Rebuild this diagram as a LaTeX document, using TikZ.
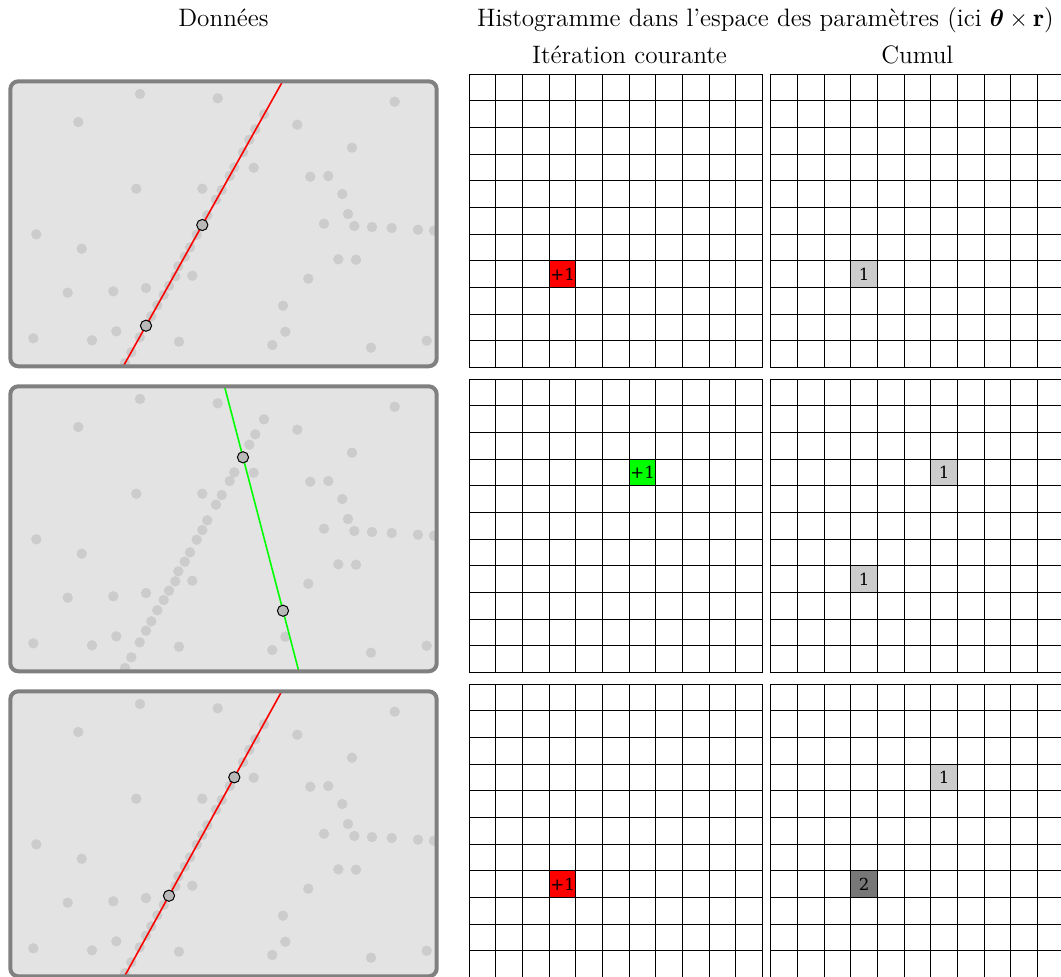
\documentclass[tikz,border=0pt]{standalone}
\usepackage{fontspec}
\usepackage{amsmath}
\usetikzlibrary{calc}
\newfontfamily\cellfont{DejaVu Serif}
\definecolor{panelbg}{RGB}{227,227,227}
\definecolor{panelborder}{RGB}{128,128,128}
\definecolor{dotgray}{RGB}{204,204,204}
\definecolor{markgray}{RGB}{185,185,185}
\definecolor{cumone}{RGB}{204,204,204}
\definecolor{cumtwo}{RGB}{119,119,119}
\definecolor{hitred}{RGB}{255,0,0}
\definecolor{hitgreen}{RGB}{0,255,0}
\tikzset{
  panelshape/.style={rounded corners=4pt},
  panelfill/.style={fill=panelbg, panelshape},
  panelframe/.style={draw=panelborder, line width=2pt, panelshape},
  datadot/.style={fill=dotgray},
  markpt/.style={fill=markgray, draw=black, line width=0.5pt},
  fitline/.style={line width=0.8pt},
  gridline/.style={draw=black, line width=0.5pt},
  cellbox/.style={draw=black, line width=0.5pt, inner sep=0pt, minimum width=13.333pt, minimum height=13.333pt, font=\cellfont\fontsize{8.3}{9}\selectfont},
  heading/.style={font=\fontsize{12.6}{14}\selectfont, anchor=base, inner sep=0pt}
}
\newcommand\drawdots{%
  \foreach \p in {(140,94),(217.7,98.3),(394.7,101.7),(78.3,122),(264,114.3),(255.3,129.3),(297.3,124.7),(249.3,139.7),(352,147.7),(243,152.3),(234.3,167.3),(253.7,167.7),(229.7,176),(310.3,176.7),(328.3,176),(136.3,188.7),(202.3,188.7),(221.7,190),(216,199.7),(342.3,194),(207.3,215.3),(348,214),(202.3,225),(324,223.7),(354.3,226),(372,227),(391.7,228),(418,229.7),(434,230.7),(36.3,234.3),(196.7,234.7),(81.7,248.7),(190,247.3),(184.7,256.7),(178.3,266.3),(338.3,259.3),(356,259.7),(175.3,276.3),(192.3,275.7),(308.3,278.7),(67.7,292.7),(113.3,291.3),(146,288),(169,285.7),(163.7,295),(157.3,305.3),(283,305.7),(151.3,316.3),(146,325.7),(116.3,331.3),(285.3,331.7),(139.7,337.3),(33.3,338.3),(92,340.3),(179,341.7),(272.3,345),(371,347.7),(426.7,340.7),(131.3,352.3),(125,363)}
    {\fill[datadot] \p circle[radius=2.6pt];}%
}
% #1 = row shift, #2 #3 = points, #4 = line colour, #5 = name prefix
\newcommand\datapanel[5]{%
  \begin{scope}[shift={(0,#1)}]
    \coordinate (#5a) at #2;
    \coordinate (#5b) at #3;
    \fill[panelfill] (10.3,81.3) rectangle (436.7,366.3);
    \begin{scope}
      \clip[panelshape] (10.3,81.3) rectangle (436.7,366.3);
      \drawdots
      \draw[fitline, #4] ($(#5a)!-3!(#5b)$) -- ($(#5a)!4!(#5b)$);
    \end{scope}
    \filldraw[markpt] (#5a) circle[radius=2.8pt];
    \filldraw[markpt] (#5b) circle[radius=2.8pt];
    \draw[panelframe] (10.3,81.3) rectangle (436.7,366.3);
  \end{scope}%
}
\newcommand\histgrid[2]{%
  \begin{scope}[shift={(#1,#2)}]
    \foreach \i in {0,...,11} {
      \draw[gridline] ({\i*26.667},0) -- ({\i*26.667},293.33);
      \draw[gridline] (0,{\i*26.667}) -- (293.33,{\i*26.667});
    }
  \end{scope}%
}
% #1 x0, #2 y0, #3 col, #4 row, #5 fill, #6 text, #7 name
\newcommand\histcell[7]{%
  \node[cellbox, fill=#5] (#7) at ({#1+(#3+0.5)*26.667},{#2+(#4+0.5)*26.667}) {#6};%
}
\begin{document}
\begin{tikzpicture}[x=0.5pt, y=-0.5pt]
\useasboundingbox (0,0) rectangle (1061,976);
% headings
\node[heading] (hdata) at (223.5,26.5) {Données};
\node[heading] (hhist) at (765.5,26.5) {Histogramme dans l’espace des paramètres (ici $\boldsymbol{\theta}\times\mathbf{r}$)};
\node[heading] (hiter) at (629.5,63) {Itération courante};
\node[heading] (hcum) at (917.3,63) {Cumul};
% data panels
\datapanel{0}{(146,325.7)}{(202.3,225)}{hitred}{pa}
\datapanel{305}{(243,152.3)}{(283,305.7)}{hitgreen}{pb}
\datapanel{610}{(234.3,167.3)}{(169,285.7)}{hitred}{pc}
% grids
\histgrid{469.3}{74.3}
\histgrid{770.7}{74.3}
\histgrid{469.3}{379.3}
\histgrid{770.7}{379.3}
\histgrid{469.3}{684.3}
\histgrid{770.7}{684.3}
% cells row 1
\histcell{469.3}{74.3}{3}{7}{hitred}{+1}{ia}
\histcell{770.7}{74.3}{3}{7}{cumone}{1}{ca}
% row 2
\histcell{469.3}{379.3}{6}{3}{hitgreen}{+1}{ib}
\histcell{770.7}{379.3}{6}{3}{cumone}{1}{cb}
\histcell{770.7}{379.3}{3}{7}{cumone}{1}{cbb}
% row 3
\histcell{469.3}{684.3}{3}{7}{hitred}{+1}{ic}
\histcell{770.7}{684.3}{6}{3}{cumone}{1}{cc}
\histcell{770.7}{684.3}{3}{7}{cumtwo}{2}{ccc}
\end{tikzpicture}
\end{document}
